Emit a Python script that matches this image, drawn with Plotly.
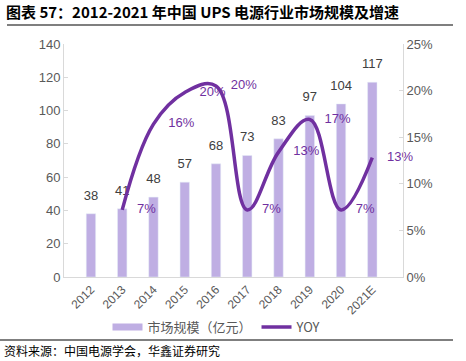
import plotly.graph_objects as go

years = ["2012", "2013", "2014", "2015", "2016", "2017", "2018", "2019", "2020", "2021E"]
market = [38, 41, 48, 57, 68, 73, 83, 97, 104, 117]
yoy_years = ["2013", "2014", "2015", "2016", "2017", "2018", "2019", "2020", "2021E"]
yoy = [0.072, 0.164, 0.198, 0.205, 0.072, 0.134, 0.169, 0.072, 0.128]
yoy_labels = ["7%", "16%", "20%", "20%", "7%", "13%", "17%", "7%", "13%"]

BAR = "#BFAEE3"
LINE = "#7030A0"
CJK = "Noto Sans CJK SC"

fig = go.Figure()
fig.add_trace(go.Bar(
    x=years, y=market, name="市场规模（亿元）", marker_color=BAR,
    showlegend=False, yaxis="y", hoverinfo="skip"))
# value labels above bars (invisible marker pads the label upward)
fig.add_trace(go.Scatter(
    x=years, y=market, mode="markers+text", text=[str(v) for v in market],
    marker=dict(size=16, opacity=0),
    textposition="top center", cliponaxis=False, showlegend=False, hoverinfo="skip",
    textfont=dict(size=13, color="#404040", family="Liberation Sans"), yaxis="y"))
# legend proxy for the bar series (wide swatch)
fig.add_trace(go.Scatter(x=[None], y=[None], mode="lines", name="市场规模（亿元）",
                         line=dict(color=BAR, width=7), yaxis="y"))
fig.add_trace(go.Scatter(
    x=yoy_years, y=yoy, name="YOY", mode="lines",
    line=dict(color=LINE, width=3.5, shape="spline", smoothing=1.1),
    yaxis="y2", hoverinfo="skip"))
# YOY labels to the right of each point
fig.add_trace(go.Scatter(
    x=yoy_years, y=yoy, mode="markers+text", text=yoy_labels,
    marker=dict(size=22, opacity=0), textposition="middle right", cliponaxis=False,
    showlegend=False, hoverinfo="skip",
    textfont=dict(size=13, color=LINE, family="Liberation Sans"), yaxis="y2"))

L, R, T, B = 64, 63, 44, 84
W, H = 466, 361
pw, ph = W - L - R, H - T - B
def px(x): return (x - L) / pw
def py(y): return (H - B - y) / ph

fig.update_layout(
    width=W, height=H, margin=dict(l=L, r=R, t=T, b=B),
    paper_bgcolor="white", plot_bgcolor="white",
    bargap=0.7,
    font=dict(family="Liberation Sans", color="#595959", size=13),
    xaxis=dict(type="category", tickangle=-45, showline=True, linecolor="#D9D9D9",
               ticks="", tickfont=dict(size=12, color="#595959")),
    yaxis=dict(range=[0, 140], dtick=20, showgrid=False, showline=True, linecolor="#D9D9D9",
               ticks="inside", ticklen=4, tickcolor="#D9D9D9",
               tickfont=dict(size=13, color="#595959"), zeroline=False),
    yaxis2=dict(range=[0, 0.25], dtick=0.05, tickformat=".0%", overlaying="y", side="right",
                showgrid=False, showline=True, linecolor="#D9D9D9",
                ticks="inside", ticklen=4, tickcolor="#D9D9D9",
                tickfont=dict(size=13, color="#595959"), zeroline=False),
    legend=dict(orientation="h", x=px(217), xanchor="center", y=py(327), yanchor="middle",
                font=dict(family=CJK, size=13, color="#595959"), itemwidth=30,
                bgcolor="rgba(0,0,0,0)"),
    showlegend=True,
)

fig.add_annotation(xref="paper", yref="paper", x=px(4), y=py(12), xanchor="left", yanchor="middle",
                   text="<b>图表 57：2012-2021 年中国 UPS 电源行业市场规模及增速</b>",
                   showarrow=False, font=dict(family=CJK, size=15, color="#000000"))
fig.add_annotation(xref="paper", yref="paper", x=px(2), y=py(350), xanchor="left", yanchor="middle",
                   text="资料来源：中国电源学会，华鑫证券研究",
                   showarrow=False, font=dict(family=CJK, size=12, color="#000000"))
fig.add_shape(type="line", xref="paper", yref="paper", x0=px(7), x1=px(453), y0=py(25), y1=py(25),
              line=dict(color="#000000", width=1.2))
fig.add_shape(type="line", xref="paper", yref="paper", x0=px(0), x1=px(453), y0=py(340), y1=py(340),
              line=dict(color="#000000", width=1.2))

fig.write_html("out.html", config={"displayModeBar": False},
               post_script="document.body.style.margin='0';document.body.style.overflow='hidden';")
